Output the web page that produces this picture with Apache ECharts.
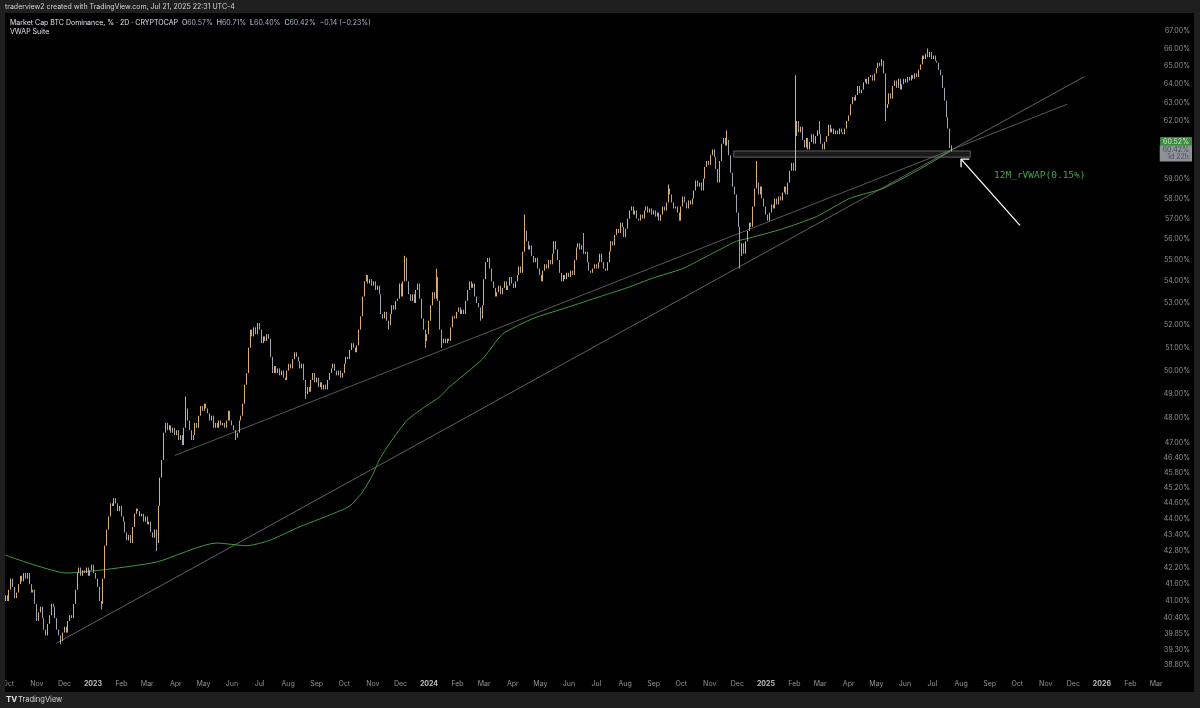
<!DOCTYPE html>
<html><head><meta charset="utf-8">
<script src="https://cdn.jsdelivr.net/npm/echarts@6/dist/echarts.min.js"></script>
<style>html,body{margin:0;padding:0;background:#000;}#c{width:1200px;height:708px;}</style>
</head><body><div id="c"></div>
<script>
// ---------- DATA ----------
const candleStart = '2022-09-28';   // first 2D bar
const candleStepDays = 2;
const firstOpen = 41.0;
const closes = [
41.2,41.0,41.4,41.8,41.5,41.1,41.3,41.6,41.9,41.7,
42.0,41.8,42.0,41.6,41.3,41.4,40.9,40.3,40.6,40.8,
40.4,40.0,39.8,40.2,40.5,40.9,40.8,40.4,40.0,39.8,
39.6,39.9,40.1,39.9,40.3,40.5,40.4,40.9,41.4,42.0,
42.2,41.9,42.1,42.0,42.2,41.9,42.1,42.3,42.0,41.8,
41.5,41.0,40.9,41.8,43.0,43.6,44.1,44.6,44.5,44.8,
44.6,44.3,44.5,44.1,43.9,43.5,43.2,43.4,43.1,43.7,
44.2,44.4,44.3,44.1,44.2,43.9,44.1,43.8,43.9,43.5,
43.3,43.6,43.1,44.5,45.6,46.3,47.4,47.8,47.5,47.7,
47.4,47.6,47.3,47.5,47.1,47.3,46.9,47.6,48.4,47.9,
47.5,47.1,47.3,47.8,47.6,48.1,48.5,48.3,48.6,48.4,
48.2,47.9,48.1,47.6,47.8,47.6,47.9,47.7,47.8,47.6,
47.9,48.3,47.9,47.7,47.5,47.2,47.4,47.9,48.1,48.6,
49.4,49.9,51.0,51.8,51.5,51.9,51.6,52.1,51.8,51.2,
51.5,51.3,51.6,51.4,50.6,49.9,50.2,49.9,50.1,49.8,
50.0,49.7,49.6,50.0,50.3,50.1,50.5,50.8,50.6,50.4,
50.1,50.3,49.6,49.0,49.3,49.1,49.6,49.9,49.5,49.7,
49.3,49.5,49.2,49.4,49.2,49.6,49.9,50.1,50.3,50.0,
49.8,50.0,49.7,49.9,50.3,50.6,50.5,50.9,51.2,51.0,
50.8,51.1,51.8,52.4,53.3,54.0,54.3,53.9,54.1,53.8,
54.0,53.6,53.8,53.4,52.5,52.3,52.6,52.2,52.0,52.5,
52.9,52.7,53.1,53.2,53.9,53.3,54.0,55.1,54.0,53.4,
53.1,53.4,53.0,53.6,53.9,53.2,52.3,51.8,51.3,51.6,
52.2,52.9,53.5,53.2,54.2,53.1,51.8,51.2,51.4,51.2,
51.4,51.3,51.9,52.4,52.3,52.6,52.8,52.5,52.7,52.5,
53.1,53.6,54.0,53.7,53.9,53.3,53.0,52.8,52.3,52.9,
54.1,54.9,55.1,54.6,54.0,53.7,53.3,53.5,53.8,53.4,
53.7,54.0,53.6,53.8,54.2,53.9,53.7,54.0,54.3,54.7,
54.4,55.4,56.4,55.9,55.5,55.7,55.2,54.9,55.1,54.6,
54.3,54.0,54.5,54.8,54.6,55.0,54.8,55.3,55.9,55.5,
55.0,54.4,54.0,54.3,54.1,54.4,54.2,54.5,54.3,55.0,
55.6,55.8,55.5,55.7,55.3,55.4,54.9,54.5,54.4,54.6,
54.8,54.6,54.9,55.3,54.9,54.6,54.5,54.9,55.4,55.9,
55.7,56.2,56.5,56.3,56.8,56.6,56.1,56.5,57.0,57.4,
57.6,57.2,57.4,57.0,56.9,57.2,57.0,57.4,57.6,57.3,
57.5,57.2,57.4,57.1,57.3,56.9,57.2,57.6,57.4,57.8,
58.5,58.2,57.8,57.5,57.6,57.3,56.9,57.6,58.1,57.8,
57.5,57.9,57.7,58.0,58.4,58.9,58.6,58.8,58.4,59.0,
59.6,59.9,59.7,60.2,60.5,60.1,59.5,58.8,59.9,60.8,
61.1,60.7,61.0,60.2,59.3,58.6,58.2,57.3,56.6,55.2,
55.8,55.3,55.9,56.4,56.8,56.6,57.6,58.5,58.8,58.2,
58.6,58.0,57.6,57.2,56.9,57.3,57.7,57.5,58.0,57.7,
58.1,57.9,58.3,58.6,58.2,58.8,59.4,59.8,59.4,61.2,
62.0,61.4,61.7,61.0,60.6,61.1,60.5,60.9,61.3,60.8,
61.2,61.5,61.3,60.8,60.5,60.9,61.2,61.8,61.4,61.6,
61.3,61.5,61.3,61.6,61.4,61.3,61.6,62.0,62.3,62.9,
63.3,63.1,63.4,63.9,63.5,63.7,64.1,64.3,64.0,64.4,
64.5,64.2,64.6,64.9,65.2,65.0,65.3,64.6,62.7,62.9,
63.5,63.2,63.9,64.2,63.8,64.3,63.7,64.0,64.3,64.1,
64.4,64.2,64.5,64.3,64.6,64.4,64.8,65.1,65.6,65.4,
65.7,65.5,65.8,65.4,65.6,65.3,65.2,64.8,64.5,63.8,
63.1,62.2,61.6,60.57,60.42
];
// notable wick extremes: [bar index, value]
const wickHighs = [[98,48.9],[217,55.2],[234,54.6],[282,57.2],[314,56.3],[360,58.7],[392,61.5],[408,59.9],[429,64.5],[442,62.0],[476,65.4],[501,66.0],[514,60.71]];
const wickLows  = [[30,39.5],[52,40.7],[82,42.8],[125,47.1],[163,48.8],[208,51.8],[228,51.0],[237,51.0],[258,52.2],[399,54.6],[478,62.0],[514,60.40]];

// 12M rolling VWAP (green)
const vwapPoints = [
['2022-09-28',42.65],['2022-10-24',42.35],['2022-12-03',42.0],['2023-01-08',42.1],['2023-03-11',42.4],
['2023-05-15',43.1],['2023-06-17',43.0],['2023-07-12',43.2],['2023-08-13',43.7],['2023-09-15',44.15],
['2023-10-07',44.5],['2023-10-20',45.0],['2023-10-31',45.65],['2023-11-08',46.3],['2023-11-19',46.95],
['2023-12-08',47.9],['2023-12-25',48.4],['2024-01-13',48.9],['2024-01-23',49.3],['2024-02-28',50.5],
['2024-03-21',51.6],['2024-04-23',52.3],['2024-05-30',52.8],['2024-07-05',53.3],['2024-08-03',53.7],
['2024-08-31',54.15],['2024-10-03',54.6],['2024-10-21',55.0],['2024-11-12',55.5],['2024-11-30',55.9],
['2024-12-14',56.05],['2025-01-19',56.5],['2025-02-25',57.1],['2025-04-02',58.0],['2025-05-08',58.5],
['2025-06-14',59.4],['2025-07-20',60.4],['2025-07-22',60.52]
];
const trendLower = [['2022-11-22',39.53],['2025-12-13',64.42]];
const trendUpper = [['2023-03-31',46.48],['2025-11-24',62.9]];
const zoneBox    = [['2024-11-27',60.42],['2025-08-11',60.1]];
const arrowShaft = [['2025-10-04',56.67],['2025-08-01',60.0]];
const arrowHead  = [['2025-08-10',60.0],['2025-08-01',60.0],['2025-08-01',59.58]];

const priceTicks = [67,66,65,64,63,62,59,58,57,56,55,54,53,52,51,50,49,48,47,46.4,45.8,45.2,44.6,44,43.4,42.8,42.2,41.6,41,40.4,39.85,39.3,38.8];
const monthTicks = ['2022-10','2022-11','2022-12','2023-01','2023-02','2023-03','2023-04','2023-05','2023-06','2023-07','2023-08','2023-09','2023-10','2023-11','2023-12',
'2024-01','2024-02','2024-03','2024-04','2024-05','2024-06','2024-07','2024-08','2024-09','2024-10','2024-11','2024-12',
'2025-01','2025-02','2025-03','2025-04','2025-05','2025-06','2025-07','2025-08','2025-09','2025-10','2025-11','2025-12',
'2026-01','2026-02','2026-03'];
const monthNames = ['Jan','Feb','Mar','Apr','May','Jun','Jul','Aug','Sep','Oct','Nov','Dec'];

const headerText = 'traderview2 created with TradingView.com, Jul 21, 2025 22:31 UTC-4';
const symbolText = 'Market Cap BTC Dominance, % · 2D · CRYPTOCAP';
const ohlcText = {O:'60.57%', H:'60.71%', L:'60.40%', C:'60.42%', chg:'−0.14 (−0.23%)'};
const indicatorText = 'VWAP Suite';
const vwapLabelText = '12M_rVWAP(0.15%)';
const vwapLast = 60.52, lastClose = 60.42, countdown = '1d 22h';

// ---------- BUILD ----------
const DAY = 86400000;
const ts = s => Date.parse((s.length === 7 ? s + '-01' : s) + 'T00:00:00Z');
const t0 = ts(candleStart);
const hiMap = {}; wickHighs.forEach(([i, v]) => hiMap[i] = v);
const loMap = {}; wickLows.forEach(([i, v]) => loMap[i] = v);
const candles = closes.map((c, i) => {
  const o = i === 0 ? firstOpen : closes[i - 1];
  const h = hiMap[i] != null ? hiMap[i] : Math.max(o, c);
  const l = loMap[i] != null ? loMap[i] : Math.min(o, c);
  return [t0 + i * candleStepDays * DAY, o, c, l, h];
});
const pts = arr => arr.map(([d, v]) => [ts(d), v]);

const FONT = 'Inter, "Noto Sans", "DejaVu Sans", sans-serif';
const MONO = '"DejaVu Sans Mono", "Liberation Mono", monospace';
const UP = '#f5c27a', DOWN = '#b0b9ca';
const X_MIN = Date.UTC(2022, 8, 27, 10), X_MAX = Date.UTC(2026, 2, 5, 3);
const Y_MIN = 38.567, Y_MAX = 67.99;
const AXIS_GREY = '#b2b5be';

const chart = echarts.init(document.getElementById('c'), null, {renderer: 'canvas', width: 1200, height: 708});

const labelSeries = (name, data, label, z) => ({
  type: 'scatter', name, data, symbolSize: 0, clip: false, silent: true, z,
  itemStyle: {color: 'transparent'}, label: Object.assign({show: true, position: 'inside'}, label)
});

const option = {
  animation: false,
  backgroundColor: '#000000',
  grid: {left: 5, right: 40, top: 14, bottom: 36},
  xAxis: {
    type: 'time', min: X_MIN, max: X_MAX,
    axisLine: {show: false}, axisTick: {show: false}, splitLine: {show: false},
    axisLabel: {show: false}
  },
  yAxis: {
    type: 'log', logBase: 10, min: Y_MIN, max: Y_MAX, position: 'right',
    axisLine: {show: false}, axisTick: {show: false}, splitLine: {show: false},
    axisLabel: {show: false}
  },
  series: [
    {
      type: 'line', name: 'trendLower', data: pts(trendLower), showSymbol: false, z: 3,
      lineStyle: {color: '#7a7a7a', width: 0.8}
    },
    {
      type: 'line', name: 'trendUpper', data: pts(trendUpper), showSymbol: false, z: 3,
      lineStyle: {color: '#6c716c', width: 0.8}
    },
    {
      type: 'line', name: 'rVWAP', data: pts(vwapPoints), showSymbol: false, smooth: 0.2, z: 4,
      lineStyle: {color: '#3f9a43', width: 1}
    },
    {
      type: 'candlestick', name: 'BTC.D', data: candles, encode: {x: 0, y: [1, 2, 3, 4]},
      barWidth: 0.9, z: 5, large: false,
      itemStyle: {color: UP, color0: DOWN, borderColor: UP, borderColor0: DOWN, borderWidth: 0.9}
    },
    {
      type: 'line', name: 'zone', data: [], z: 6,
      markArea: {
        silent: true,
        itemStyle: {color: 'rgba(45,45,45,0.55)', borderColor: '#727272', borderWidth: 0.8},
        data: [[{coord: [ts(zoneBox[0][0]), zoneBox[0][1]]}, {coord: [ts(zoneBox[1][0]), zoneBox[1][1]]}]]
      }
    },
    {
      type: 'line', name: 'arrowShaft', data: pts(arrowShaft), showSymbol: false, z: 7,
      lineStyle: {color: '#ffffff', width: 1.3}
    },
    {
      type: 'line', name: 'arrowHead', data: pts(arrowHead), showSymbol: false, z: 7,
      lineStyle: {color: '#ffffff', width: 1.3}
    },
    labelSeries('priceTicks', priceTicks.map(v => [X_MAX, v]), {
      align: 'right', verticalAlign: 'middle', offset: [30, 0],
      color: AXIS_GREY, fontSize: 7, fontFamily: FONT,
      formatter: p => p.value[1].toFixed(2) + '%'
    }, 8),
    labelSeries('monthTicks', monthTicks.map(m => [ts(m), Y_MIN]), {
      align: 'center', verticalAlign: 'middle', offset: [0, 12],
      color: AXIS_GREY, fontSize: 7, fontFamily: FONT,
      formatter: p => {
        const d = new Date(p.value[0]);
        return d.getUTCMonth() === 0 ? '{y|' + d.getUTCFullYear() + '}' : monthNames[d.getUTCMonth()];
      },
      rich: {y: {fontWeight: 'bold', color: '#e8eaf0', fontSize: 7, fontFamily: FONT}}
    }, 8),
    labelSeries('lastPrice', [[X_MAX, lastClose]], {
      align: 'right', verticalAlign: 'top', offset: [32, -5.5],
      backgroundColor: '#b2b5be', padding: [1, 3, 1, 3],
      formatter: () => '{a|' + lastClose.toFixed(2) + '%}\n{a|' + countdown + '}',
      rich: {a: {color: '#3a3d46', fontSize: 7, lineHeight: 7, fontFamily: FONT, align: 'right'}}
    }, 9),
    labelSeries('vwapPrice', [[X_MAX, vwapLast]], {
      align: 'right', verticalAlign: 'middle', offset: [32, -7.5],
      backgroundColor: '#4caf50', padding: [1, 3, 1, 3],
      color: '#e8ffe8', fontSize: 7, fontFamily: FONT,
      formatter: () => vwapLast.toFixed(2) + '%'
    }, 10)
  ],
  graphic: {
    elements: [
      {type: 'rect', z: 100, shape: {x: 0, y: 0, width: 1200, height: 13}, style: {fill: '#1f1f1f'}},
      {type: 'rect', z: 100, shape: {x: 0, y: 692, width: 1200, height: 16}, style: {fill: '#1f1f1f'}},
      {type: 'rect', z: 100, shape: {x: 0, y: 0, width: 5, height: 708}, style: {fill: '#1f1f1f'}},
      {type: 'rect', z: 100, shape: {x: 1194, y: 0, width: 6, height: 708}, style: {fill: '#1f1f1f'}},
      {type: 'text', z: 101, x: 5, y: 7, style: {text: headerText, fill: '#d1d4dc', fontSize: 7, fontFamily: FONT, verticalAlign: 'middle'}},
      {type: 'text', z: 101, x: 10, y: 23, style: {
        text: '{t|' + symbolText + '}  {k|O}{v|' + ohlcText.O + '}  {k|H}{v|' + ohlcText.H + '}  {k|L}{v|' + ohlcText.L + '}  {k|C}{v|' + ohlcText.C + '}  {v|' + ohlcText.chg + '}',
        verticalAlign: 'middle', fontSize: 7, fontFamily: FONT, fill: '#e0e3eb',
        rich: {
          t: {fill: '#e0e3eb', fontSize: 7, fontFamily: FONT},
          k: {fill: '#e0e3eb', fontSize: 7, fontFamily: FONT},
          v: {fill: '#aab3c4', fontSize: 7, fontFamily: FONT}
        }
      }},
      {type: 'text', z: 101, x: 10, y: 32, style: {text: indicatorText, fill: '#e0e3eb', fontSize: 7, fontFamily: FONT, verticalAlign: 'middle'}},
      {type: 'text', z: 101, x: 994, y: 176, style: {text: vwapLabelText, fill: '#46a34b', fontSize: 9.5, fontFamily: MONO, verticalAlign: 'middle'}},
      {type: 'text', z: 101, x: 6, y: 700, style: {text: 'TV', fill: '#e0e3eb', fontSize: 8, fontWeight: 'bold', fontFamily: FONT, verticalAlign: 'middle'}},
      {type: 'text', z: 101, x: 18, y: 700, style: {text: 'TradingView', fill: '#d1d4dc', fontSize: 7.5, fontFamily: FONT, verticalAlign: 'middle'}}
    ]
  }
};
chart.setOption(option);
</script>
</body></html>
